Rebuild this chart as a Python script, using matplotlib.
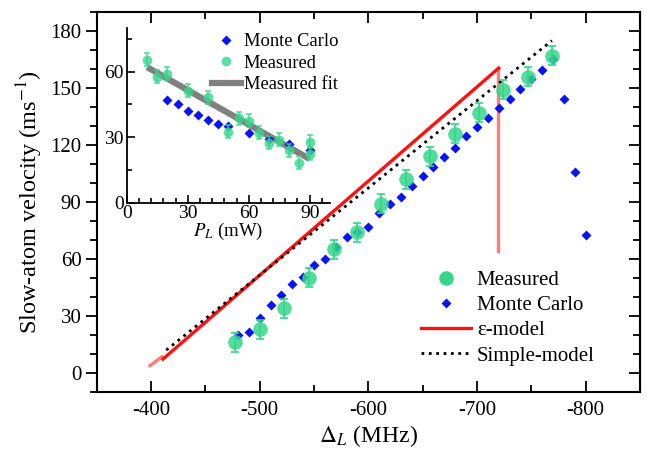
import numpy as np
import matplotlib
matplotlib.use("Agg")
from matplotlib import pyplot as plt
from matplotlib.lines import Line2D
from matplotlib.ticker import MultipleLocator, AutoMinorLocator

plt.rcParams['font.family'] = ['Liberation Serif', 'DejaVu Serif']
plt.rcParams['mathtext.fontset'] = 'stix'
plt.rcParams['axes.unicode_minus'] = False

GREEN = '#35d68b'
BLUE = '#0a14f0'
RED = '#ff1010'

# main panel: slow-atom velocity vs detuning
meas_det = [-477, -500, -522, -545, -568, -590, -612, -635, -657, -680, -702, -724, -747, -769]
meas_vel = [16, 23, 34, 50, 65, 74, 89, 102, 114, 126, 137, 149, 156, 167]
meas_err = [5, 5, 5, 5, 5, 5, 5, 5, 5, 5, 5, 5, 5, 5]

mc_det = [-480, -490, -500, -510, -520, -530, -540, -550, -560, -570, -580,
          -590, -600, -610, -620, -630, -640, -650, -660, -670, -680, -690,
          -700, -710, -720, -730, -740, -750, -760, -770, -780, -790, -800]
mc_vel = [19.8, 21.7, 29, 35.6, 40.8, 46.5, 50.7, 56.5, 59.8, 66, 71.6,
          74, 76.8, 84.4, 88.8, 92.6, 98.6, 103.7, 108.6, 113.7, 118.4, 124.5,
          129.5, 134.4, 139.3, 144.4, 149.5, 154.6, 159.5, 165.4, 144.4, 105.6, 72.6]

eps_det = [-411, -720]
eps_vel = [7.2, 160.5]
eps_start_det = [-399, -410]
eps_start_vel = [3.7, 8.4]
eps_drop_det = [-719, -719]
eps_drop_vel = [160.5, 64]

simple_det = [-414, -769]
simple_vel = [11.9, 175]

# inset: velocity vs laser power
in_mc_p = [20, 25, 30, 35, 40, 45, 50, 60, 70, 80, 90]
in_mc_v = [47, 45, 42, 40, 38, 36, 35, 32, 29, 27, 24]
in_meas_p = [10, 15, 20, 30, 40, 50, 55, 60, 65, 70, 75, 80, 85, 90, 90]
in_meas_v = [65.4, 57.7, 59, 51.3, 48.2, 32.5, 38.6, 37.4, 32, 27.4, 28.9, 24, 18.2, 27.9, 22.5]
in_meas_err = [3, 3, 3, 3, 3, 3, 3, 3, 3, 3, 3, 3, 3, 3, 3]
in_fit_p = [10, 90]
in_fit_v = [62, 20]

fig = plt.figure(figsize=(6.47, 4.49), dpi=100)
ax = fig.add_axes([0.1495, 0.1276, 0.8395, 0.8454])

ax.plot(mc_det, mc_vel, 'D', color=BLUE, ms=5.5, mec='none', zorder=3)
ax.errorbar(meas_det, meas_vel, yerr=meas_err, fmt='o', color=GREEN, ms=10.5,
            mec='none', ecolor=GREEN, elinewidth=1.5, capsize=3, capthick=1.5,
            alpha=0.85, zorder=4)
ax.plot(eps_start_det, eps_start_vel, '-', color=RED, lw=2.4, alpha=0.55, zorder=2)
ax.plot(eps_det, eps_vel, '-', color=RED, lw=2.4, zorder=2)
ax.plot(eps_drop_det, eps_drop_vel, '-', color=RED, lw=2.4, alpha=0.55, zorder=2)
ax.plot(simple_det, simple_vel, ':', color='black', lw=2.0, zorder=2)

ax.set_xlim(-350, -850)
ax.set_ylim(-10, 190)
ax.xaxis.set_major_locator(MultipleLocator(100))
ax.xaxis.set_minor_locator(AutoMinorLocator(2))
ax.set_yticks([0, 30, 60, 90, 120, 150, 180])
ax.yaxis.set_minor_locator(AutoMinorLocator(3))

ax.tick_params(axis='both', which='both', top=True, labelsize=15, width=1.3)
ax.tick_params(axis='x', which='both', direction='in')
ax.tick_params(axis='y', which='both', direction='out', right=False)
ax.tick_params(axis='x', which='major', length=8, pad=7)
ax.tick_params(axis='x', which='minor', length=5)
ax.tick_params(axis='y', which='major', length=8, pad=3)
ax.tick_params(axis='y', which='minor', length=5)
for s in ax.spines.values():
    s.set_linewidth(1.5)

# right-hand ticks point inward, left ones outward
ax2 = ax.secondary_yaxis('right')
ax2.set_yticks([0, 30, 60, 90, 120, 150, 180])
ax2.yaxis.set_minor_locator(AutoMinorLocator(3))
ax2.tick_params(which='both', direction='in', labelright=False, width=1.3)
ax2.tick_params(which='major', length=8)
ax2.tick_params(which='minor', length=5)

ax.set_xlabel(r'$\Delta_L$ (MHz)', fontsize=17, labelpad=2)
ax.set_ylabel(r'Slow-atom velocity (ms$^{-1}$)', fontsize=17.5, labelpad=4)

main_handles = [
    Line2D([], [], ls='none', marker='o', ms=10.5, color=GREEN, mec='none'),
    Line2D([], [], ls='none', marker='D', ms=5.5, color=BLUE, mec='none'),
    Line2D([], [], ls='-', lw=2.4, color=RED),
    Line2D([], [], ls=':', lw=2.0, color='black'),
]
ax.legend(main_handles, ['Measured', 'Monte Carlo', 'ε-model', 'Simple-model'],
          loc='upper left', bbox_to_anchor=(0.650, 0.398), bbox_transform=fig.transFigure,
          frameon=False, fontsize=15, handlelength=2.4, handletextpad=0.3,
          labelspacing=0.27, borderpad=0, borderaxespad=0)

# inset
axi = fig.add_axes([0.196, 0.5486, 0.314, 0.3894])
axi.plot(in_fit_p, in_fit_v, '-', color='#808080', lw=4.5, solid_capstyle='butt', zorder=2)
axi.plot(in_mc_p, in_mc_v, 'D', color=BLUE, ms=4.8, mec='none', zorder=3)
axi.errorbar(in_meas_p, in_meas_v, yerr=in_meas_err, fmt='o', color=GREEN, ms=7,
             mec='none', ecolor=GREEN, elinewidth=1.2, capsize=2, capthick=1.2,
             alpha=0.8, zorder=4)
axi.set_xlim(0, 100)
axi.set_ylim(0, 80)
axi.set_xticks([0, 30, 60, 90])
axi.set_yticks([0, 30, 60])
axi.xaxis.set_minor_locator(AutoMinorLocator(5))
axi.yaxis.set_minor_locator(AutoMinorLocator(2))
axi.tick_params(which='both', direction='in', labelsize=14, width=1.2, pad=2)
axi.tick_params(which='major', length=6)
axi.tick_params(which='minor', length=3.5)
axi.spines['top'].set_visible(False)
axi.spines['right'].set_visible(False)
axi.spines['left'].set_linewidth(1.3)
axi.spines['bottom'].set_linewidth(1.3)
axi.set_xlabel(r'$P_L$ (mW)', fontsize=13.5, labelpad=-1)
axi.patch.set_alpha(0)

inset_handles = [
    Line2D([], [], ls='none', marker='D', ms=4.8, color=BLUE, mec='none'),
    Line2D([], [], ls='none', marker='o', ms=7, color=GREEN, mec='none', alpha=0.8),
    Line2D([], [], ls='-', lw=4.5, color='#808080'),
]
axi.legend(inset_handles, ['Monte Carlo', 'Measured', 'Measured fit'],
           loc='upper left', bbox_to_anchor=(0.327, 0.926), bbox_transform=fig.transFigure,
           frameon=False, fontsize=13.3, handlelength=1.6, handletextpad=0.15,
           labelspacing=0.25, borderpad=0, borderaxespad=0)

fig.savefig('out.png', dpi=100)
